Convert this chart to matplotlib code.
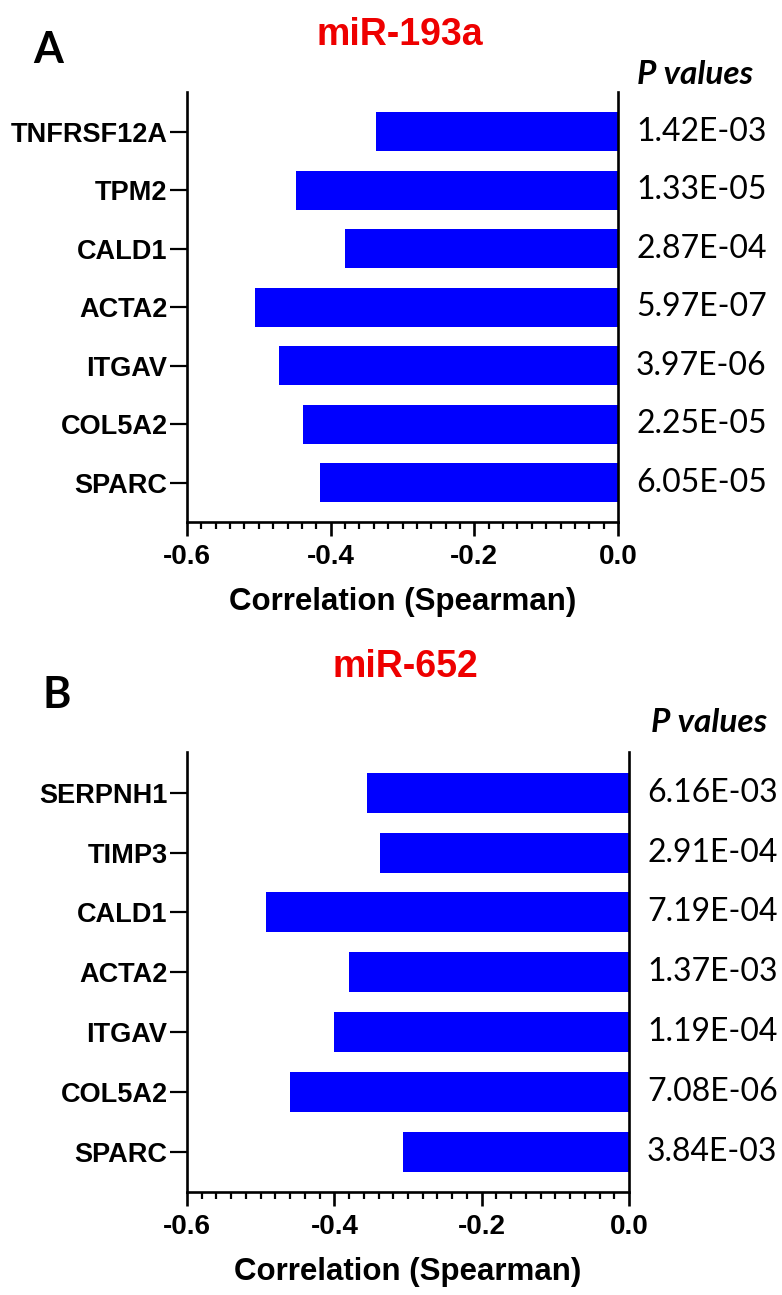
import numpy as np
import matplotlib.pyplot as plt
from matplotlib.ticker import MultipleLocator

# panel A: miR-193a
genes_a = ["TNFRSF12A", "TPM2", "CALD1", "ACTA2", "ITGAV", "COL5A2", "SPARC"]
rho_a = [-0.337, -0.448, -0.380, -0.506, -0.472, -0.439, -0.415]
pvals_a = ["1.42E-03", "1.33E-05", "2.87E-04", "5.97E-07", "3.97E-06", "2.25E-05", "6.05E-05"]

# panel B: miR-652
genes_b = ["SERPNH1", "TIMP3", "CALD1", "ACTA2", "ITGAV", "COL5A2", "SPARC"]
rho_b = [-0.356, -0.338, -0.493, -0.380, -0.400, -0.460, -0.307]
pvals_b = ["6.16E-03", "2.91E-04", "7.19E-04", "1.37E-03", "1.19E-04", "7.08E-06", "3.84E-03"]

W, H = 782, 1295
fig = plt.figure(figsize=(W / 100, H / 100), dpi=100)

BOLD = "Liberation Sans"
CAL = "Lato"


def fx(px):
    return px / W


def fy(py):
    return 1 - py / H


def panel(rect, genes, rho, pvals, title, letter, title_xy, letter_xy, pv_xy):
    ax = fig.add_axes(rect)
    ax.barh(genes, rho, height=0.67, color="#0000ff", edgecolor="none")
    ax.set_xlim(-0.6, 0.0)
    ax.set_ylim(len(genes) - 1 + 0.67, -0.68)

    ax.spines["top"].set_visible(False)
    for s in ["left", "bottom", "right"]:
        ax.spines[s].set_linewidth(1.9)

    ax.xaxis.set_major_locator(MultipleLocator(0.2))
    ax.xaxis.set_minor_locator(MultipleLocator(0.02))
    ax.set_xticklabels([f"{v:.1f}" for v in ax.get_xticks()])
    ax.tick_params(axis="x", which="major", length=10, width=1.9, pad=6,
                   labelsize=20)
    ax.tick_params(axis="x", which="minor", length=5, width=1.6)
    ax.tick_params(axis="y", length=12, width=1.6, pad=2, labelsize=19.5)
    for lab in ax.get_xticklabels() + ax.get_yticklabels():
        lab.set_fontfamily(BOLD)
        lab.set_fontweight("bold")

    ax.set_xlabel("Correlation (Spearman)", fontsize=22.5, fontweight="bold",
                  fontfamily=BOLD, labelpad=12)

    for i, p in enumerate(pvals):
        ax.annotate(p, xy=(0, i), xytext=(13, 0), textcoords="offset points",
                    va="center", ha="left", fontsize=23, fontfamily=CAL)

    fig.text(fx(title_xy[0]), fy(title_xy[1]), title, color="#ee0000",
             fontsize=27, fontweight="bold", fontfamily=BOLD,
             ha="center", va="center")
    fig.text(fx(letter_xy[0]), fy(letter_xy[1]), letter, fontsize=31,
             fontweight="bold", fontfamily=CAL, ha="center", va="center")
    fig.text(fx(pv_xy[0]), fy(pv_xy[1]), "P values", fontsize=24,
             fontweight="bold", fontstyle="italic", fontfamily=CAL,
             ha="center", va="center")
    return ax


panel([fx(187), fy(522), fx(618) - fx(187), fy(92) - fy(522)],
      genes_a, rho_a, pvals_a, "miR-193a", "A",
      (400, 35), (48, 50), (695, 75))

panel([fx(187), fy(1192), fx(629) - fx(187), fy(752) - fy(1192)],
      genes_b, rho_b, pvals_b, "miR-652", "B",
      (405, 667), (57, 695), (709, 723))

fig.savefig("out.png", dpi=100)
